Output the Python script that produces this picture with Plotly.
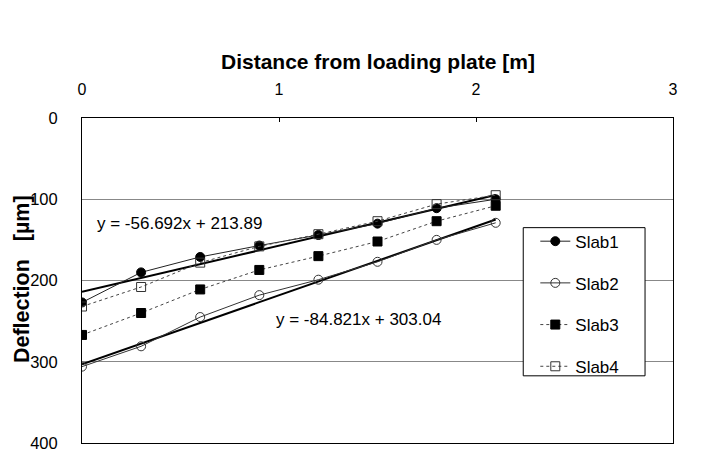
import plotly.graph_objects as go
import numpy as np

# Data
distance = [0, 0.3, 0.6, 0.9, 1.2, 1.5, 1.8, 2.1]
slab1 = [227, 190, 171, 157, 144, 130, 111, 100]
slab2 = [306, 281, 245, 218, 199, 177, 150, 129]
slab3 = [267, 240, 211, 187, 170, 152, 127, 108]
slab4 = [232, 208, 178, 158, 143, 127, 106, 95]
series_names = ["Slab1", "Slab2", "Slab3", "Slab4"]
trend1 = (-56.692, 213.89)
trend2 = (-84.821, 303.04)
x_ticks = [0, 1, 2, 3]
y_ticks = [0, 100, 200, 300, 400]
x_title = "Distance from loading plate [m]"
y_title = "Deflection\u00a0\u00a0\u00a0[µm]"

FONT = "Liberation Sans, Arial, sans-serif"

fig = go.Figure()

styles = [
    dict(line=dict(color="#222", width=1, dash="solid"), marker=dict(symbol="circle", size=9, color="black", line=dict(color="black", width=1))),
    dict(line=dict(color="#333", width=1, dash="solid"), marker=dict(symbol="circle-open", size=9, color="#333", line=dict(width=1))),
    dict(line=dict(color="#444", width=1, dash="dot"), marker=dict(symbol="square", size=9, color="black", line=dict(color="black", width=1))),
    dict(line=dict(color="#444", width=1, dash="dot"), marker=dict(symbol="square-open", size=9, color="#333", line=dict(width=1))),
]

# trendlines (drawn first, underneath)
tx = np.array([distance[0], distance[-1]])
for (a, b) in (trend1, trend2):
    fig.add_trace(go.Scatter(x=tx, y=a * tx + b, mode="lines",
                             line=dict(color="black", width=2),
                             showlegend=False, hoverinfo="skip"))

for i, (name, ys) in enumerate(zip(series_names, [slab1, slab2, slab3, slab4])):
    fig.add_trace(go.Scatter(x=distance, y=ys, mode="lines+markers", name=name,
                             legendgroup=name, **styles[i]))

fig.add_annotation(x=0.495, y=130, text="y = -56.692x + 213.89", showarrow=False,
                   font=dict(family=FONT, size=17, color="black"))
fig.add_annotation(x=1.404, y=248, text="y = -84.821x + 303.04", showarrow=False,
                   font=dict(family=FONT, size=17, color="black"))

# axis titles
fig.add_annotation(xref="paper", yref="paper", x=0.5, y=1.1733, xanchor="center", yanchor="middle",
                   text="<b>" + x_title + "</b>", showarrow=False,
                   font=dict(family=FONT, size=21, color="black"))
fig.add_annotation(xref="paper", yref="paper", x=-0.1014, y=0.5046, xanchor="center", yanchor="middle",
                   text="<b>" + y_title + "</b>", showarrow=False, textangle=-90,
                   font=dict(family=FONT, size=21.5, color="black"))

# legend frame (white box with black border)
fig.add_shape(type="rect", xref="paper", yref="paper",
              x0=0.7466, x1=0.9527, y0=0.2067, y1=0.6626,
              line=dict(color="black", width=1), fillcolor="white", layer="above")

fig.update_layout(
    width=715, height=464,
    margin=dict(l=82, r=42, t=118, b=17),
    paper_bgcolor="white", plot_bgcolor="white",
    font=dict(family=FONT, size=16, color="black"),
    showlegend=True,
    legend=dict(x=0.767, y=0.675, xanchor="left", yanchor="top",
                bgcolor="rgba(0,0,0,0)", borderwidth=0,
                font=dict(size=17, family=FONT), tracegroupgap=16.6,
                itemwidth=30),
    xaxis=dict(side="top", range=[0, 3], tickvals=x_ticks, ticktext=[str(v) for v in x_ticks],
               showgrid=False, zeroline=False, showline=True, linecolor="black", linewidth=1,
               mirror=True, ticks="inside", ticklen=4, tickcolor="black",
               ticklabelstandoff=16, tickfont=dict(size=16)),
    yaxis=dict(range=[400, 0], tickvals=y_ticks, ticktext=[str(v) for v in y_ticks],
               showgrid=True, gridcolor="#888", gridwidth=1, zeroline=False,
               showline=True, linecolor="black", linewidth=1, mirror=True,
               ticks="outside", ticklen=20, tickcolor="rgba(0,0,0,0)",
               tickfont=dict(size=16.5)),
)

fig.write_html("out.html")
